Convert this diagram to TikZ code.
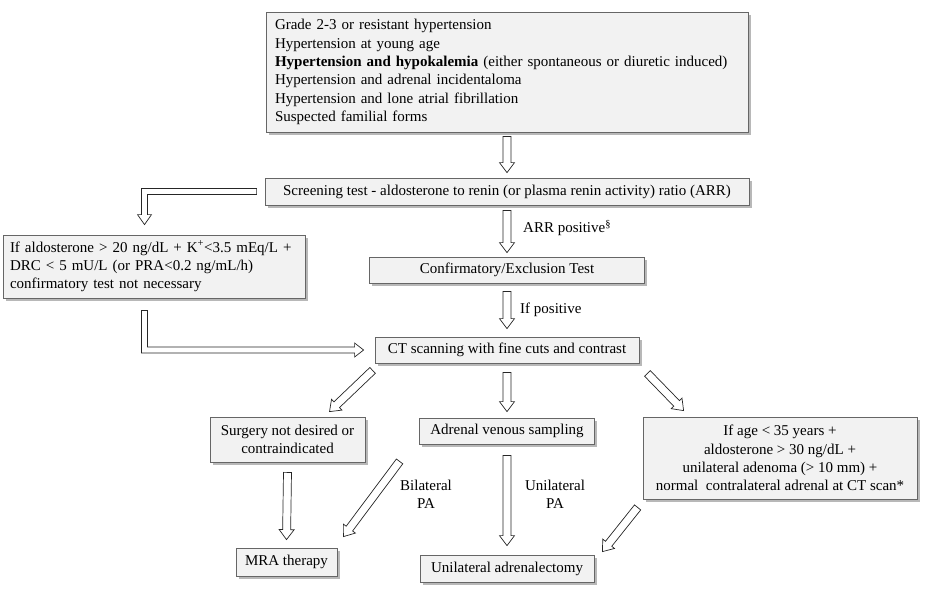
\documentclass[tikz,border=0pt]{standalone}
\usepackage{fontspec}
\setmainfont{Liberation Serif}
\usetikzlibrary{calc,shadows}
\newcommand{\fs}{\fontsize{15}{18.4}\selectfont}
\tikzset{
  box/.style={draw=black!60, fill=black!5, line width=0.8pt, font=\fs, inner sep=0pt,
    drop shadow={shadow xshift=2.5pt, shadow yshift=-2.5pt, fill=black!35, opacity=0.8}},
  label/.style={font=\fs, inner sep=0pt},
  hollow/.style={draw=black!85, fill=white, line width=0.7pt, line join=miter, to path={
    ($(\tikztostart)!4pt!90:(\tikztotarget)$)
    -- ($(\tikztotarget)!10pt!(\tikztostart)!4pt!-90:(\tikztostart)$)
    -- ($(\tikztotarget)!10pt!(\tikztostart)!7.5pt!-90:(\tikztostart)$)
    -- (\tikztotarget)
    -- ($(\tikztotarget)!10pt!(\tikztostart)!7.5pt!90:(\tikztostart)$)
    -- ($(\tikztotarget)!10pt!(\tikztostart)!4pt!90:(\tikztostart)$)
    -- ($(\tikztostart)!4pt!-90:(\tikztotarget)$) -- cycle}},
  elbow/.style={draw=black!85, fill=white, line width=0.7pt, line join=miter}
}

\begin{document}
\begin{tikzpicture}[x=1pt, y=-1pt]
    \useasboundingbox (0,0) rectangle (925,592);
    % boxes
    \node[box, text width=464pt, inner xsep=9pt, align=left, minimum height=120pt] (signs) at (507,72)
      {Grade 2-3 or resistant hypertension\\
       Hypertension at young age\\
       \textbf{Hypertension and hypokalemia} (either spontaneous or diuretic induced)\\
       Hypertension and adrenal incidentaloma\\
       Hypertension and lone atrial fibrillation\\
       Suspected familial forms};
    \node[box, minimum width=484pt, minimum height=27pt] (screen) at (507,191.5)
      {Screening test - aldosterone to renin (or plasma renin activity) ratio (ARR)};
    \node[box, text width=288pt, inner xsep=7pt, align=left, minimum height=63pt] (ifaldo) at (154,266.5)
      {If aldosterone > 20 ng/dL + K\textsuperscript{+}<3.5 mEq/L +\\
       DRC < 5 mU/L (or PRA<0.2 ng/mL/h)\\
       confirmatory test not necessary};
    \node[box, minimum width=275pt, minimum height=26pt] (conf) at (507,270) {Confirmatory/Exclusion Test};
    \node[box, minimum width=264pt, minimum height=26pt] (ct) at (507,350) {CT scanning with fine cuts and contrast};
    \node[box, minimum width=155pt, minimum height=45pt, align=center] (surgery) at (287.5,439.5)
      {Surgery not desired or\\contraindicated};
    \node[box, minimum width=175pt, minimum height=26pt] (avs) at (507,431) {Adrenal venous sampling};
    \node[box, minimum width=274pt, minimum height=82pt, align=center] (young) at (780,458)
      {If age < 35 years +\\
       aldosterone > 30 ng/dL +\\
       unilateral adenoma (> 10 mm) +\\
       normal\ \ contralateral adrenal at CT scan*};
    \node[box, minimum width=101pt, minimum height=28pt] (mra) at (286.5,562) {MRA therapy};
    \node[box, minimum width=174pt, minimum height=27pt] (adx) at (507,568.5) {Unilateral adrenalectomy};

    % straight arrows
    \draw[hollow] ([yshift=-4pt]signs.south) to ([yshift=5pt]screen.north);
    \draw[hollow] ([yshift=-5pt]screen.south) to ([yshift=4pt]conf.north);
    \draw[hollow] ([yshift=-8pt]conf.south) to ([yshift=8pt]ct.north);
    \draw[hollow] ([yshift=-9pt]ct.south) to ([yshift=6pt]avs.north);
    \draw[hollow] ([shift={(-2pt,-7pt)}]ct.south west) to ([shift={(42pt,5pt)}]surgery.north);
    \draw[hollow] ([shift={(8pt,-10pt)}]ct.south east) to ([shift={(41pt,6pt)}]young.north west);
    \draw[hollow] ([yshift=-10pt]surgery.south) to ([yshift=8pt]mra.north);
    \draw[hollow] ([yshift=-11pt]avs.south) to ([yshift=9pt]adx.north);
    \draw[hollow] ([shift={(-19.5pt,-17pt)}]avs.south west) to ([shift={(6pt,11pt)}]mra.north east);
    \draw[hollow] ([shift={(-5pt,-8pt)}]young.south west) to ([shift={(8pt,3pt)}]adx.north east);

    % elbow arrows
    \coordinate (e1s) at ([xshift=-8pt]screen.west);
    \coordinate (e1t) at ([shift={(-9.5pt,10pt)}]ifaldo.north);
    \coordinate (e1c) at (e1t |- e1s);
    \draw[elbow] ([yshift=3pt]e1s) -- ([shift={(-3pt,3pt)}]e1c) -- ([shift={(-3pt,10pt)}]e1t)
      -- ([shift={(-7pt,10pt)}]e1t) -- (e1t) -- ([shift={(7pt,10pt)}]e1t) -- ([shift={(3pt,10pt)}]e1t)
      -- ([shift={(3pt,-3pt)}]e1c) -- ([yshift=-3pt]e1s) -- cycle;
    \coordinate (e2s) at ([shift={(-9.5pt,-12pt)}]ifaldo.south);
    \coordinate (e2t) at ([xshift=-11pt]ct.west);
    \coordinate (e2c) at (e2s |- e2t);
    \draw[elbow] ([xshift=-3pt]e2s) -- ([shift={(-3pt,-3pt)}]e2c) -- ([shift={(-9pt,-3pt)}]e2t)
      -- ([shift={(-9pt,-7pt)}]e2t) -- (e2t) -- ([shift={(-9pt,7pt)}]e2t) -- ([shift={(-9pt,3pt)}]e2t)
      -- ([shift={(3pt,3pt)}]e2c) -- ([xshift=3pt]e2s) -- cycle;

    % labels
    \node[label, anchor=west] (arrpos) at (523,228) {ARR positive\textsuperscript{\S}};
    \node[label, anchor=west] (ifpos) at (520,310) {If positive};
    \node[label, align=center] (bilat) at (426,494) {Bilateral\\PA};
    \node[label, align=center] (unilat) at (555,494) {Unilateral\\PA};
\end{tikzpicture}
\end{document}
